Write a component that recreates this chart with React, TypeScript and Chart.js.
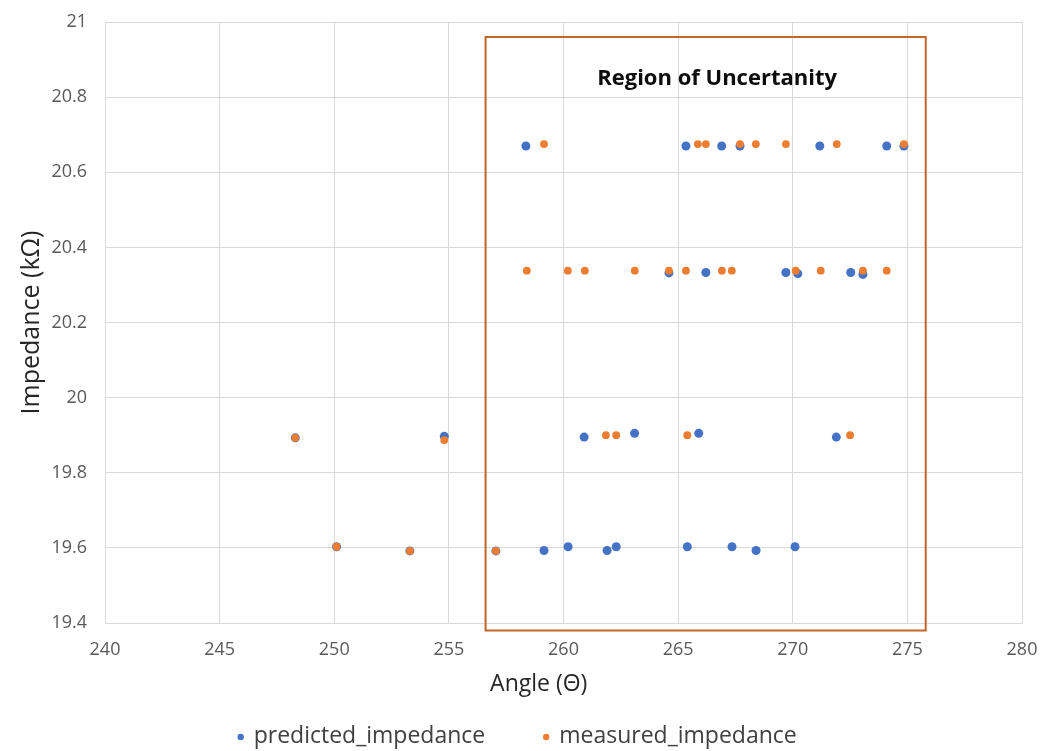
import React, { useEffect, useRef } from "react";
import { Chart, registerables } from "chart.js";

Chart.register(...registerables);

const predictedX = [248.3, 250.1, 253.3, 254.8, 257.05, 258.36, 259.15, 260.2, 260.9, 261.9, 262.3, 263.1, 264.6, 265.34, 265.4, 265.9, 266.21, 266.9, 267.35, 267.7, 268.4, 269.7, 270.1, 270.22, 271.18, 271.9, 272.53, 273.06, 274.1, 274.85];
const predictedY = [19.893, 19.603, 19.592, 19.897, 19.592, 20.67, 19.593, 19.603, 19.895, 19.593, 19.603, 19.905, 20.332, 20.67, 19.603, 19.905, 20.333, 20.67, 19.603, 20.67, 19.593, 20.333, 19.603, 20.33, 20.67, 19.895, 20.333, 20.328, 20.67, 20.67];

const measuredX = [248.3, 250.1, 253.3, 254.8, 257.05, 258.4, 259.15, 260.19, 260.93, 261.85, 262.3, 263.11, 264.6, 265.34, 265.4, 265.86, 266.21, 266.91, 267.34, 267.7, 268.39, 269.7, 270.13, 271.22, 271.92, 272.5, 273.06, 274.1, 274.85];
const measuredY = [19.893, 19.603, 19.592, 19.887, 19.592, 20.338, 20.675, 20.338, 20.338, 19.9, 19.9, 20.338, 20.338, 20.338, 19.9, 20.675, 20.675, 20.338, 20.338, 20.675, 20.675, 20.675, 20.338, 20.338, 20.675, 19.9, 20.338, 20.338, 20.675];

const seriesNames = ["predicted_impedance", "measured_impedance"];
const seriesColors = ["#4472C4", "#ED7D31"];

const xTicks = [240, 245, 250, 255, 260, 265, 270, 275, 280];
const yTickLabels = ["19.4", "19.6", "19.8", "20", "20.2", "20.4", "20.6", "20.8", "21"];

const xTitle = "Angle (Θ)";
const yTitle = "Impedance (kΩ)";

const regionX = [256.6, 275.8];
const regionY = [19.38, 20.96];
const regionLabel = "Region of Uncertanity";
const regionLabelPos = [266.7, 20.848];

const FONT = "'Open Sans', 'Noto Sans', sans-serif";

const overlayPlugin = {
  id: "overlay",
  afterDatasetsDraw(chart: any) {
    const { ctx, scales } = chart;
    const x = scales.x, y = scales.y;
    const x0 = x.getPixelForValue(regionX[0]);
    const x1 = x.getPixelForValue(regionX[1]);
    const y0 = y.getPixelForValue(regionY[1]);
    const y1 = y.getPixelForValue(regionY[0]);
    ctx.save();
    ctx.strokeStyle = "#C0652A";
    ctx.lineWidth = 2;
    ctx.strokeRect(x0, y0, x1 - x0, y1 - y0);
    ctx.fillStyle = "#0D0D0D";
    ctx.font = `bold 22px ${FONT}`;
    ctx.textAlign = "center";
    ctx.textBaseline = "middle";
    ctx.fillText(regionLabel, x.getPixelForValue(regionLabelPos[0]), y.getPixelForValue(regionLabelPos[1]));
    ctx.restore();
  },
  afterDraw(chart: any) {
    const { ctx, scales } = chart;
    const x = scales.x;
    ctx.save();
    // x axis title
    ctx.fillStyle = "#262626";
    ctx.font = `23px ${FONT}`;
    ctx.textAlign = "center";
    ctx.textBaseline = "middle";
    const plotBottom = x.top;
    ctx.fillText(xTitle, x.left + (x.right - x.left) * 0.473, plotBottom + 61);
    // legend
    ctx.font = `23px ${FONT}`;
    ctx.textAlign = "left";
    const legendY = chart.height - 15;
    const gap = 58;
    const markerGap = 16;
    const widths = seriesNames.map((n) => ctx.measureText(n).width);
    const total = widths.reduce((a, b) => a + b, 0) + markerGap * 2 + gap;
    let cx = x.left + (x.right - x.left) * 0.4495 - total / 2;
    seriesNames.forEach((name, i) => {
      ctx.fillStyle = seriesColors[i];
      ctx.beginPath();
      ctx.arc(cx + 3, legendY + 1, 3.2, 0, Math.PI * 2);
      ctx.fill();
      ctx.fillStyle = "#404040";
      ctx.fillText(name, cx + markerGap, legendY);
      cx += markerGap + widths[i] + gap;
    });
    ctx.restore();
  },
};

export default function App() {
  const ref = useRef<HTMLCanvasElement>(null);
  useEffect(() => {
    if (!ref.current) return;
    const chart = new Chart(ref.current, {
      type: "scatter",
      data: {
        datasets: [
          {
            label: seriesNames[0],
            data: predictedX.map((v, i) => ({ x: v, y: predictedY[i] })),
            backgroundColor: seriesColors[0],
            borderColor: seriesColors[0],
            pointRadius: 4.5,
            borderWidth: 0,
            order: 1,
          },
          {
            label: seriesNames[1],
            data: measuredX.map((v, i) => ({ x: v, y: measuredY[i] })),
            backgroundColor: seriesColors[1],
            borderColor: seriesColors[1],
            pointRadius: 3.9,
            borderWidth: 0,
            order: 0,
          },
        ],
      },
      options: {
        animation: false,
        responsive: true,
        maintainAspectRatio: false,
        layout: { padding: { top: 22, right: 35, left: 0, bottom: 0 } },
        scales: {
          x: {
            type: "linear",
            min: 240,
            max: 280,
            afterBuildTicks: (s: any) => {
              s.ticks = xTicks.map((v) => ({ value: v }));
            },
            ticks: { color: "#595959", font: { family: FONT, size: 18 }, padding: 16 },
            grid: { color: "#D9D9D9", drawTicks: false },
            border: { color: "#D9D9D9" },
            afterFit: (s: any) => {
              s.height = 128;
            },
          },
          y: {
            type: "linear",
            min: 19.4,
            max: 21,
            afterBuildTicks: (s: any) => {
              s.ticks = yTickLabels.map((t) => ({ value: parseFloat(t) }));
            },
            ticks: {
              color: "#595959",
              font: { family: FONT, size: 18 },
              padding: 18,
              callback: (v: any) => yTickLabels.find((t) => Math.abs(parseFloat(t) - v) < 1e-6) ?? "",
            },
            grid: { color: "#D9D9D9", drawTicks: false },
            border: { color: "#D9D9D9" },
            title: { display: true, text: yTitle, color: "#262626", font: { family: FONT, size: 25 }, padding: { top: 17, bottom: 0 } },
            afterFit: (s: any) => {
              s.width = 105;
              s.paddingTop = 0;
              s.paddingBottom = 0;
            },
          },
        },
        plugins: {
          legend: { display: false },
          tooltip: { enabled: false },
        },
      },
      plugins: [overlayPlugin],
    });
    return () => chart.destroy();
  }, []);
  return (
    <div style={{ position: "fixed", left: 0, top: 0, width: 1057, height: 751, background: "#fff" }}>
      <canvas ref={ref} />
    </div>
  );
}
